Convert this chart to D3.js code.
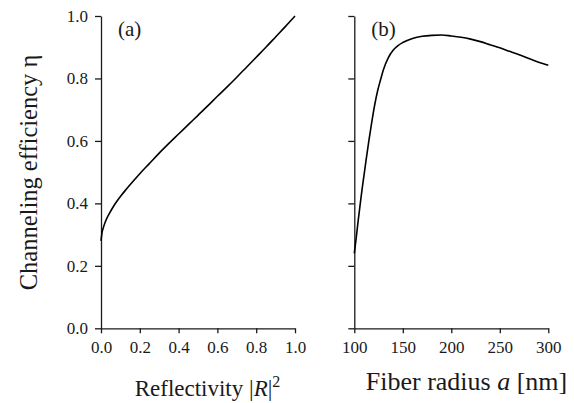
<!DOCTYPE html>
<html>
<head>
<meta charset="utf-8">
<script src="https://cdn.jsdelivr.net/npm/d3@7"></script>
<style>
  html, body { margin: 0; padding: 0; background: #fff; }
  svg { display: block; }
  svg text { font-family: "Liberation Serif", "Times New Roman", serif !important; fill: #1a1a1a; }
</style>
</head>
<body>
<svg id="chart" width="574" height="403"></svg>
<script>
// Panel (a): channeling efficiency vs. mirror reflectivity |R|^2
const reflectivity = [0, 0.005, 0.01, 0.02, 0.03, 0.04, 0.06, 0.08, 0.1, 0.13, 0.17, 0.2, 0.25, 0.3, 0.35, 0.4, 0.45, 0.5, 0.55, 0.6, 0.65, 0.7, 0.75, 0.8, 0.85, 0.9, 0.95, 1.0];
const etaA = [0.28, 0.305, 0.318, 0.337, 0.352, 0.364, 0.386, 0.405, 0.422, 0.445, 0.474, 0.495, 0.528, 0.561, 0.592, 0.622, 0.652, 0.682, 0.712, 0.743, 0.773, 0.804, 0.836, 0.868, 0.900, 0.933, 0.966, 1.0];

// Panel (b): channeling efficiency vs. fiber radius a (nm)
const radius = [100, 102, 104, 106, 108, 110, 112, 115, 118, 121, 124, 127, 130, 135, 140, 145, 150, 160, 170, 180, 190, 200, 210, 220, 230, 240, 250, 260, 270, 280, 290, 300];
const etaB = [0.24, 0.29, 0.345, 0.395, 0.445, 0.49, 0.535, 0.60, 0.66, 0.715, 0.76, 0.795, 0.828, 0.866, 0.89, 0.905, 0.915, 0.928, 0.935, 0.938, 0.939, 0.936, 0.932, 0.926, 0.918, 0.908, 0.898, 0.887, 0.876, 0.864, 0.852, 0.842];

const yTicks = [0, 0.2, 0.4, 0.6, 0.8, 1.0];
const xTicksA = [0, 0.2, 0.4, 0.6, 0.8, 1.0];
const xTicksB = [100, 150, 200, 250, 300];

const svg = d3.select("#chart");
const ink = "#1a1a1a";

const plotTop = 16, plotBottom = 328.3;
const y = d3.scaleLinear().domain([0, 1]).range([plotBottom, plotTop]);

function panel(xDomain, xRange, xTicks, fmt, xs, ys, showYLabels, tag, xTitleNode, titleX, titleY, titleSize) {
  const x = d3.scaleLinear().domain(xDomain).range(xRange);
  const g = svg.append("g");

  const yAxis = d3.axisLeft(y).tickValues(yTicks).tickSizeInner(6).tickSizeOuter(0).tickPadding(7)
    .tickFormat(showYLabels ? d3.format(".1f") : () => "");
  const ga = g.append("g").attr("transform", `translate(${xRange[0]},0)`).call(yAxis);

  const xAxis = d3.axisBottom(x).tickValues(xTicks).tickSizeInner(5).tickSizeOuter(0).tickPadding(8)
    .tickFormat(fmt);
  const gx = g.append("g").attr("transform", `translate(0,${plotBottom})`).call(xAxis);

  [ga, gx].forEach(a => {
    a.attr("font-family", null).attr("font-size", 17);
    a.selectAll("path").attr("stroke", ink).attr("stroke-width", 1.3);
    a.selectAll("line").attr("stroke", ink).attr("stroke-width", 1.3);
    a.selectAll("text").attr("fill", ink);
  });

  const line = d3.line().x((d, i) => x(xs[i])).y(d => y(d)).curve(d3.curveMonotoneX);
  g.append("path").datum(ys).attr("d", line)
    .attr("fill", "none").attr("stroke", "#000").attr("stroke-width", 1.6).attr("stroke-linejoin", "round");

  g.append("text").attr("x", xRange[0] + 17).attr("y", 36).attr("font-size", 21).text(tag);

  const t = g.append("text").attr("x", titleX).attr("y", titleY).attr("text-anchor", "middle").attr("font-size", titleSize);
  xTitleNode(t);
}

panel([0, 1], [101, 295], xTicksA, d3.format(".1f"), reflectivity, etaA, true, "(a)", t => {
  t.append("tspan").text("Reflectivity |");
  t.append("tspan").attr("font-style", "italic").text("R");
  t.append("tspan").text("|");
  t.append("tspan").attr("dy", -9).attr("font-size", 16).text("2");
}, 207.5, 396, 23);

panel([100, 300], [354.3, 548.3], xTicksB, d3.format("d"), radius, etaB, false, "(b)", t => {
  t.append("tspan").text("Fiber radius ");
  t.append("tspan").attr("font-style", "italic").text("a");
  t.append("tspan").text(" [nm]");
}, 466.5, 390, 26);

// Shared y-axis title
svg.append("text")
  .attr("transform", "translate(37,172.5) rotate(-90)")
  .attr("text-anchor", "middle")
  .attr("font-size", 24.5)
  .text("Channeling efficiency η");
</script>
</body>
</html>
